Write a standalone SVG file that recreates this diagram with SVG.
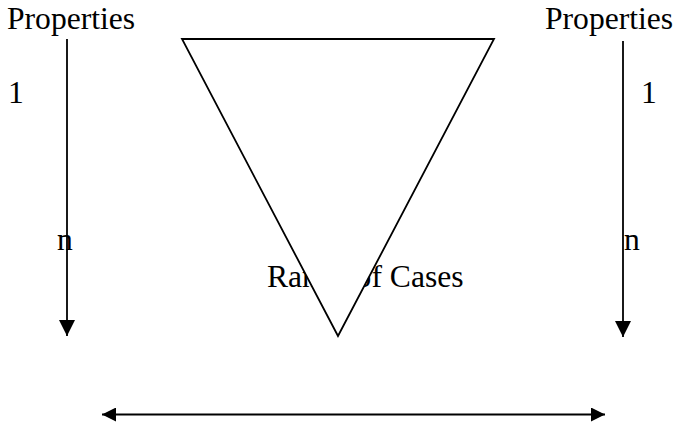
<svg xmlns="http://www.w3.org/2000/svg" width="676" height="425" viewBox="0 0 676 425">
  <style>
    .t { font-family: "Liberation Serif", "Times New Roman", serif; font-size: 31.6px; fill: #000; }
    .ln { stroke: #000; stroke-width: 1.8; fill: none; }
  </style>
  <defs>
    <marker id="ah" markerUnits="userSpaceOnUse" markerWidth="16" markerHeight="16" refX="16" refY="8" orient="auto">
      <path d="M0,0 L16,8 L0,16 z" fill="#000"/>
    </marker>
    <marker id="ah2" markerUnits="userSpaceOnUse" markerWidth="14" markerHeight="14" refX="14" refY="7" orient="auto-start-reverse">
      <path d="M0,0 L14,7 L0,14 z" fill="#000"/>
    </marker>
  </defs>
  <rect width="676" height="425" fill="#fff"/>
  <g id="label-properties-left"><text class="t" x="7" y="29">Properties</text></g>
  <g id="label-properties-right"><text class="t" x="545" y="29">Properties</text></g>
  <g id="label-1-left"><text class="t" x="8" y="103">1</text></g>
  <g id="label-1-right"><text class="t" x="641" y="103">1</text></g>
  <g id="label-n-left"><text class="t" x="57" y="250">n</text></g>
  <g id="label-n-right"><text class="t" x="624" y="250">n</text></g>
  <g id="label-range"><text class="t" x="267" y="287">Range of Cases</text></g>
  <g id="connectors">
    <line class="ln" x1="67" y1="39" x2="67" y2="336" marker-end="url(#ah)"/>
    <line class="ln" x1="623" y1="41" x2="623" y2="337" marker-end="url(#ah)"/>
    <line class="ln" x1="102" y1="414.5" x2="605" y2="414.5" marker-start="url(#ah2)" marker-end="url(#ah2)"/>
  </g>
  <g id="triangle">
    <polygon points="182,39 494,39 338,336" fill="#fff" stroke="#000" stroke-width="1.8"/>
  </g>
</svg>
